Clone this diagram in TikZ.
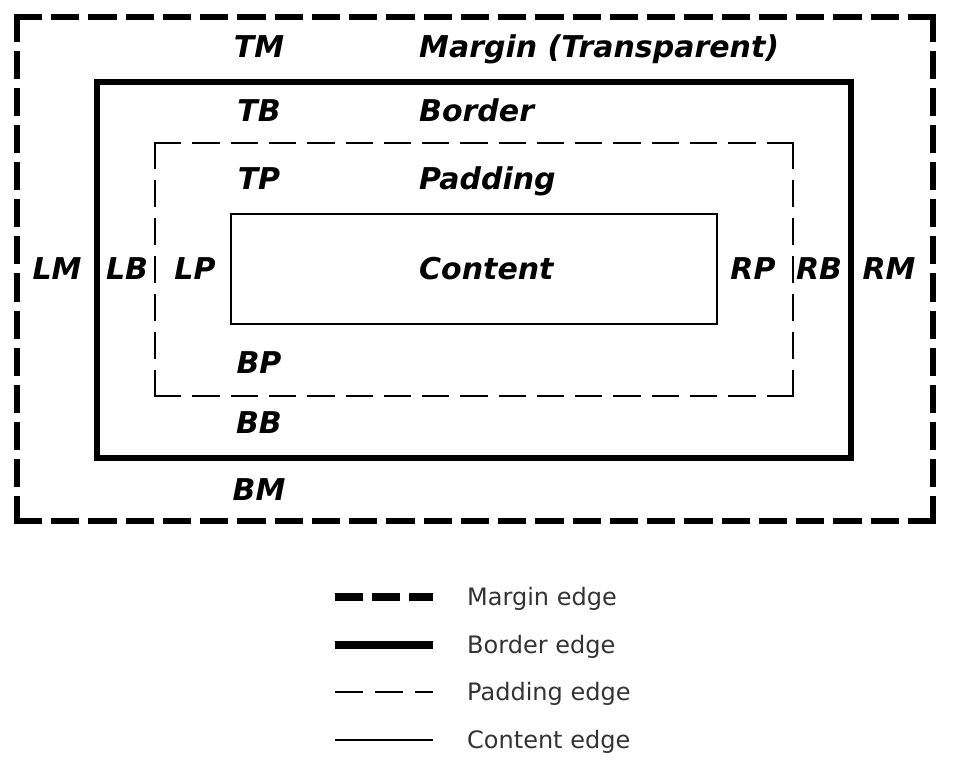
\documentclass[tikz,border=0pt]{standalone}
\usepackage{fontspec}
\setmainfont{DejaVu Sans}
\begin{document}
\begin{tikzpicture}[x=1pt,y=-1pt,
  lbl/.style={font=\fontsize{30}{33}\selectfont\bfseries\itshape, inner sep=0pt, anchor=base},
  lbll/.style={lbl, anchor=base west},
  legtxt/.style={font=\fontsize{24}{27}\selectfont, text=black!80, anchor=base west, inner sep=0pt},
  marginh/.style={line width=6.5pt, dash pattern=on 28.26pt off 9pt},
  marginv/.style={line width=6.5pt, dash pattern=on 28.1pt off 9pt},
  borderedge/.style={line width=6pt},
  paddingh/.style={line width=1.6pt, dash pattern=on 27.27pt off 11pt},
  paddingv/.style={line width=1.6pt, dash pattern=on 26.94pt off 11pt},
  contentedge/.style={line width=1.6pt},
  marginleg/.style={line width=8pt, dash pattern=on 28pt off 9pt},
  borderleg/.style={line width=8pt},
  paddingleg/.style={line width=2.2pt, dash pattern=on 28pt off 12pt},
  contentleg/.style={line width=2.2pt}]
\useasboundingbox (0,0) rectangle (958,768);
\fill[white] (0,0) rectangle (958,768);
% margin box (sides drawn so that dashes meet at the corners)
\draw[marginh] (13.75,17) -- (936.25,17);
\draw[marginh] (13.75,521) -- (936.25,521);
\draw[marginv] (17,13.75) -- (17,524.25);
\draw[marginv] (933,13.75) -- (933,524.25);
% border box
\draw[borderedge] (97,82) rectangle (851,458);
% padding box
\draw[paddingh] (154.2,143) -- (793.8,143);
\draw[paddingh] (154.2,396) -- (793.8,396);
\draw[paddingv] (155,142.2) -- (155,396.8);
\draw[paddingv] (793,142.2) -- (793,396.8);
% content box
\draw[contentedge] (231,214) rectangle (717,324);
% labels (positions are baselines)
\node[lbl] (tm) at (259,58) {TM};
\node[lbll] (mt) at (419,58) {Margin (Transparent)};
\node[lbl] (tb) at (259,121) {TB};
\node[lbll] (bt) at (419,121) {Border};
\node[lbl] (tp) at (259,189) {TP};
\node[lbll] (pt) at (419,189) {Padding};
\node[lbll] (ct) at (419,279) {Content};
\node[lbl] (lm) at (57,279) {LM};
\node[lbl] (lb) at (127,279) {LB};
\node[lbl] (lp) at (195,279) {LP};
\node[lbl] (rp) at (753,279) {RP};
\node[lbl] (rb) at (819,279) {RB};
\node[lbl] (rm) at (889,279) {RM};
\node[lbl] (bp) at (259,373) {BP};
\node[lbl] (bb) at (259,433) {BB};
\node[lbl] (bm) at (259,500) {BM};
% legend
\coordinate (m1) at (335,597); \coordinate (m2) at (433,597);
\coordinate (b1) at (335,645); \coordinate (b2) at (433,645);
\coordinate (p1) at (335,692); \coordinate (p2) at (433,692);
\coordinate (c1) at (335,740); \coordinate (c2) at (433,740);
\draw[marginleg] (m1) -- (m2);
\draw[borderleg] (b1) -- (b2);
\draw[paddingleg] (p1) -- (p2);
\draw[contentleg] (c1) -- (c2);
\node[legtxt] (lm1) at (467,605) {Margin edge};
\node[legtxt] (lb1) at (467,653) {Border edge};
\node[legtxt] (lp1) at (467,700) {Padding edge};
\node[legtxt] (lc1) at (467,748) {Content edge};
\end{tikzpicture}
\end{document}
